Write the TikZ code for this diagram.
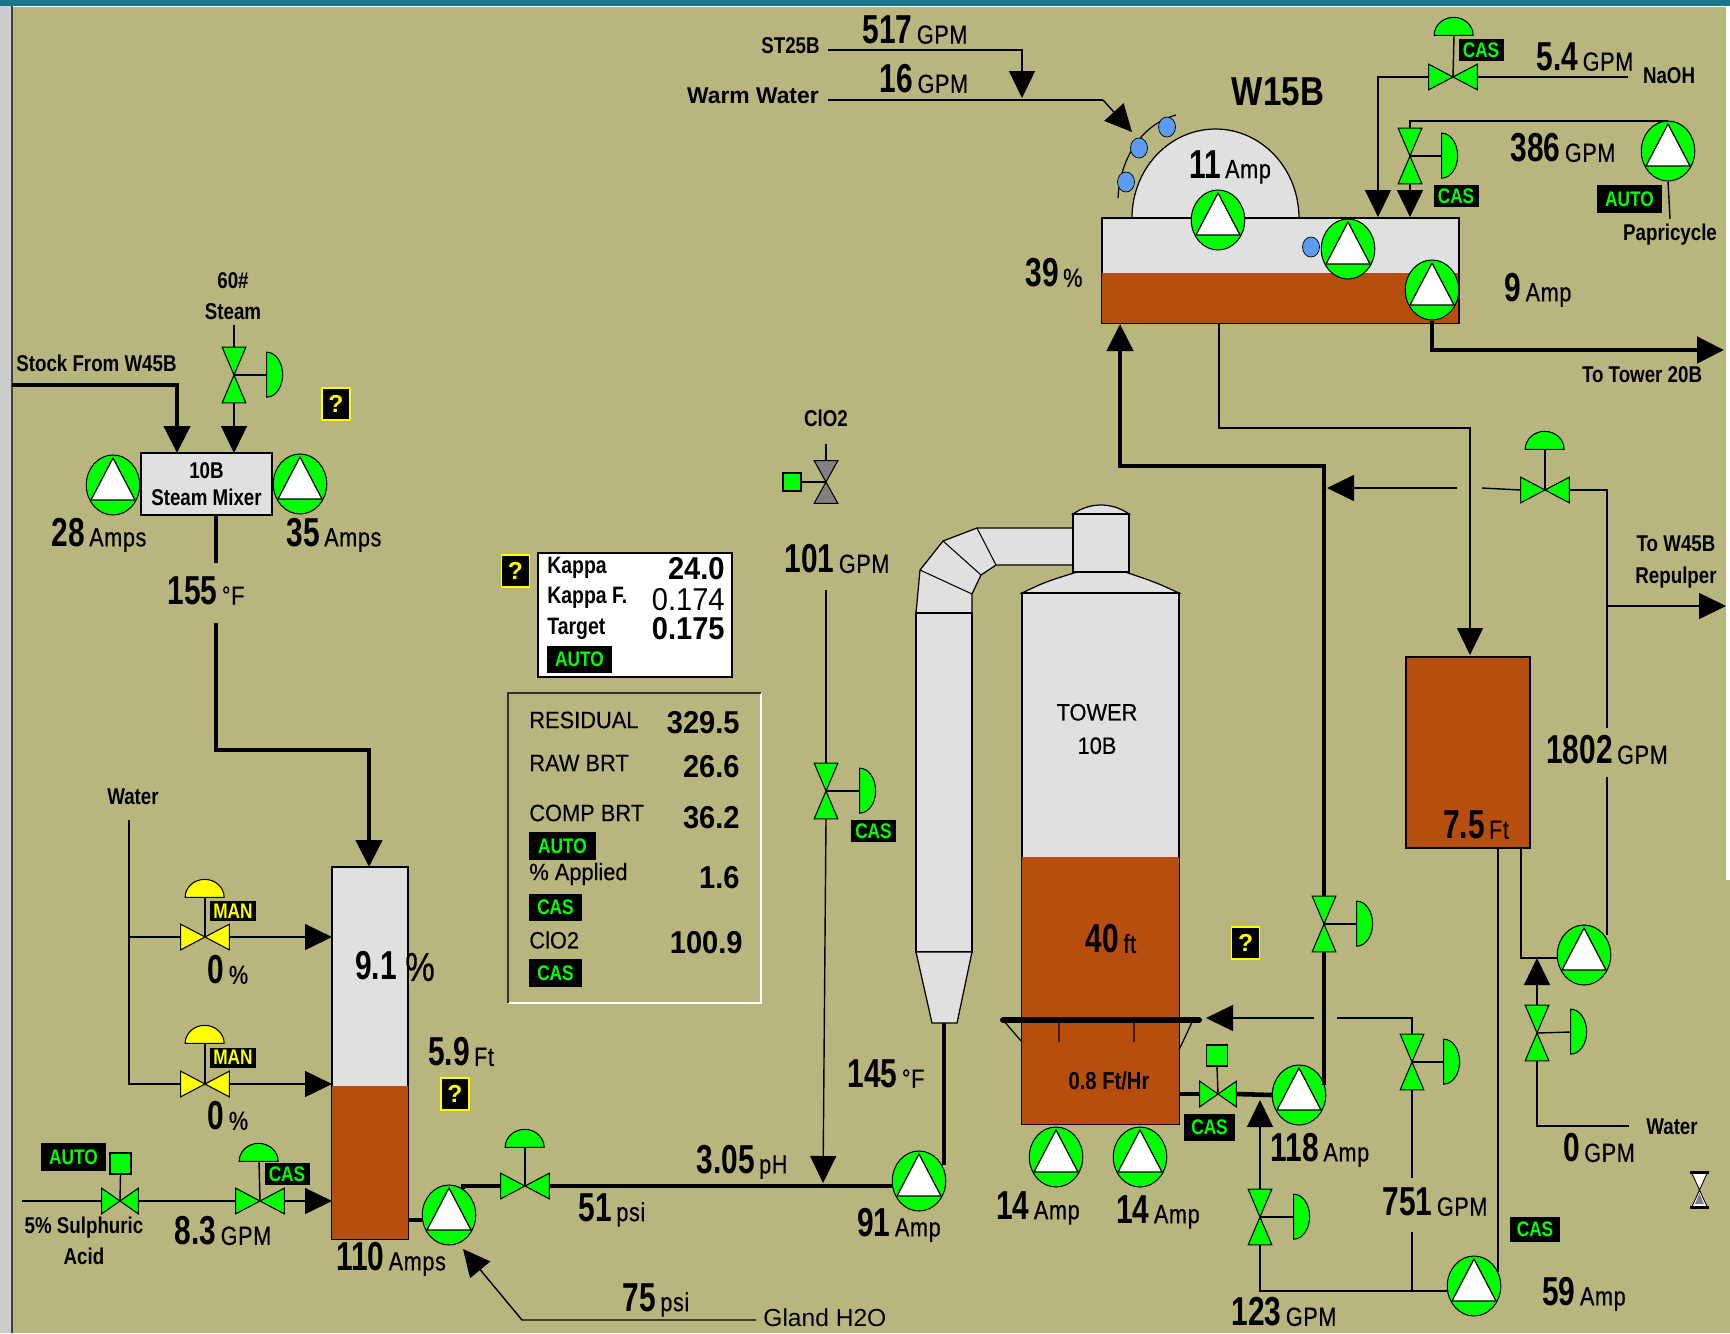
\documentclass[tikz,border=0pt]{standalone}
\usepackage{fontspec}
\setmainfont{Liberation Sans}
\newfontfamily\numfont[FakeStretch=0.74]{Liberation Sans}
\newfontfamily\unitfont[FakeStretch=0.82,LetterSpace=2.5,FakeBold=0.5]{Liberation Sans}
\newfontfamily\labelfont[FakeStretch=0.82]{Liberation Sans}
\newfontfamily\panelfont[FakeStretch=0.92,FakeBold=0.3]{Liberation Sans}
\newfontfamily\panelnumfont[FakeStretch=0.92]{Liberation Sans}
\usetikzlibrary{arrows.meta,shapes.geometric}
\definecolor{Pback}{RGB}{184,182,126}
\definecolor{Pgreen}{RGB}{0,255,0}
\definecolor{Pyellow}{RGB}{255,255,0}
\definecolor{Pbrown}{RGB}{184,78,14}
\definecolor{Pgray}{RGB}{224,224,224}
\definecolor{Pblue}{RGB}{91,155,240}
\definecolor{Pteal}{RGB}{24,120,135}
\tikzset{
  bighead/.tip={Triangle[length=0.54cm,width=0.52cm]},
  pipe/.style={draw=black, line width=0.8pt},
  flow/.style={pipe, -{bighead}},
  thickpipe/.style={draw=black, line width=2.6pt},
  thickflow/.style={thickpipe, -{bighead}},
  vessel/.style={draw=black, line width=0.7pt, fill=Pgray, inner sep=0pt},
  pumpbox/.style={ellipse, draw=black, line width=0.6pt, fill=Pgreen, inner sep=0pt, minimum width=1.07cm, minimum height=1.2cm},
  hvbox/.style={inner sep=0pt, minimum width=0.96cm, minimum height=0.5cm},
  vvbox/.style={inner sep=0pt, minimum width=0.46cm, minimum height=1.1cm},
  squarebox/.style={draw=black, line width=0.6pt, fill=Pgreen, inner sep=0pt, minimum size=0.42cm},
  tagbox/.style={fill=black, text=Pgreen, font=\labelfont\bfseries\fontsize{12}{14}\selectfont, inner sep=0pt, minimum height=0.44cm, minimum width=0.9cm},
  mantag/.style={tagbox, text=Pyellow, minimum width=0.94cm, minimum height=0.4cm},
  qbox/.style={draw=Pyellow, fill=black, text=Pyellow, line width=0.8pt, font=\bfseries\fontsize{14}{16}\selectfont, inner sep=0pt, minimum width=0.56cm, minimum height=0.64cm},
  reading/.style={inner sep=0pt},
  tagline/.style={inner sep=0pt, font=\labelfont\bfseries\fontsize{13}{15}\selectfont, align=center},
  paneltext/.style={inner sep=0pt, anchor=west, font=\panelfont\fontsize{13.5}{16}\selectfont},
  panelnum/.style={inner sep=0pt, anchor=east, font=\panelnumfont\bfseries\fontsize{18}{21}\selectfont},
  bubble/.style={ellipse, draw=black, line width=0.4pt, fill=Pblue, inner sep=0pt, minimum width=0.34cm, minimum height=0.4cm}
}
\newcommand{\val}[2]{{\numfont\bfseries\fontsize{23}{26}\selectfont #1}\hspace{2.5pt}{\unitfont\fontsize{15}{18}\selectfont #2}}
\newcommand{\pump}[2]{%
  \node[pumpbox] (#1) at (#2) {};
  \draw[fill=white, line width=0.7pt] ([shift={(0,-27)}]#1.center) -- ([shift={(22,15)}]#1.center) -- ([shift={(-22,15)}]#1.center) -- cycle;
}
\newcommand{\hvalve}[4][Pgreen]{%
  \node[hvbox,#4] (#2) at (#3) {};
  \draw[fill=#1, line width=0.6pt] (#2.north west) -- (#2.south east) -- (#2.north east) -- (#2.south west) -- cycle;
}
\newcommand{\vvalve}[4][Pgreen]{%
  \node[vvbox,#4] (#2) at (#3) {};
  \draw[fill=#1, line width=0.6pt] (#2.north west) -- (#2.north east) -- (#2.south west) -- (#2.south east) -- cycle;
}
\newcommand{\domeup}[3][Pgreen]{%
  \node[inner sep=0pt, minimum width=0.78cm, minimum height=0.36cm] (#2) at (#3) {};
  \draw[fill=#1, line width=0.6pt] (#2.south west) arc[start angle=180, end angle=0, x radius=0.39cm, y radius=0.36cm] -- cycle;
}
\newcommand{\domeright}[2]{%
  \node[inner sep=0pt, minimum width=0.32cm, minimum height=0.9cm] (#1) at (#2) {};
  \draw[fill=Pgreen, line width=0.6pt] (#1.north west) arc[start angle=90, end angle=-90, x radius=0.32cm, y radius=0.45cm] -- cycle;
}

\begin{document}
\begin{tikzpicture}[x=0.02cm,y=-0.02cm]
  \useasboundingbox (0,0) rectangle (1730,1333);
  \fill[Pback] (0,0) rectangle (1730,1333);
  \fill[Pteal] (0,0) rectangle (1730,6);
  \draw[white, line width=0.5pt] (0,6.5) -- (1730,6.5);
  \fill[white] (1726,6) rectangle (1730,880);
  \fill[black!20] (0,6) rectangle (11,1333);
  \draw[black!75, line width=1pt] (12,6) -- (12,1333);

  % vessels
  \node[vessel, minimum width=2.62cm, minimum height=1.24cm, align=center, font=\labelfont\bfseries\fontsize{13}{15.5}\selectfont] (mixer) at (206.5,484) {10B\\Steam Mixer};
  \node[vessel, minimum width=1.52cm, minimum height=7.44cm] (chest) at (370,1053) {};
  \fill[Pbrown] (chest.south west) rectangle (408,1086);
  \draw[line width=0.7pt] (chest.south west) rectangle (chest.north east);

  \draw[vessel] (1022,593) .. controls (1045,582) .. (1077,572) -- (1125,572) .. controls (1155,582) .. (1179,593) -- cycle;
  \draw[vessel] (1073,514) .. controls (1090,502) and (1112,502) .. (1129,514) -- cycle;
  \draw[vessel] (916,613) -- (920,570) -- (943,541) -- (977,528) -- (1073,528) -- (1073,565) -- (996,565) -- (981,575) -- (972,594) -- (972,613) -- cycle;
  \draw[line width=0.6pt] (920,570) -- (972,594) (943,541) -- (981,575) (977,528) -- (996,565);
  \node[vessel, minimum width=1.12cm, minimum height=6.78cm] (duct) at (944,782.5) {};
  \draw[vessel] (916,952) -- (972,952) -- (957,1023) -- (932,1023) -- cycle;
  \node[vessel, minimum width=1.12cm, minimum height=1.16cm] (neck) at (1101,543) {};
  \node[vessel, minimum width=3.14cm, minimum height=10.62cm] (tower) at (1100.5,858.5) {};
  \fill[Pbrown] (tower.south west) rectangle (1179,857);
  \draw[line width=0.7pt] (tower.south west) rectangle (tower.north east);
  \node[vessel, fill=Pbrown, minimum width=2.48cm, minimum height=3.82cm] (stand) at (1468,752.5) {};

  \draw[vessel] (1132,218) arc[start angle=180, end angle=0, x radius=1.67cm, y radius=1.78cm] -- cycle;
  \node[vessel, minimum width=7.13cm, minimum height=2.1cm] (washer) at (1280.25,270.5) {};
  \fill[Pbrown] (washer.south west) rectangle (1458.5,273);
  \draw[line width=0.7pt] (washer.south west) rectangle (washer.north east);

  % tower internals
  \draw[line width=0.7pt] (1059,1020) -- (1059,1042) (1134,1020) -- (1134,1042) (1003,1020) -- (1022,1042) (1193,1020) -- (1179,1050);
  \draw[line width=3.4pt, line cap=round] (1003,1020) -- (1199,1020);

  % pumps
  \pump{pmixl}{113,485}
  \pump{pmixr}{300,484}
  \pump{pchest}{449,1215}
  \pump{pfeed}{919,1181}
  \pump{ptowa}{1056,1157}
  \pump{ptowb}{1140,1157}
  \pump{pdisc}{1299,1095}
  \pump{pstand}{1474,1286}
  \pump{pwater}{1584,955}
  \pump{pdome}{1218,220}
  \pump{pwash}{1348,249}
  \pump{pout}{1432,290}
  \pump{ppap}{1668,151}

  % valves
  \vvalve{vsteam}{234,375}{}
  \domeright{dsteam}{275,375}
  \hvalve[Pyellow]{vwata}{205,937}{}
  \domeup[Pyellow]{dwata}{205,888}
  \hvalve[Pyellow]{vwatb}{205,1084}{}
  \domeup[Pyellow]{dwatb}{205,1034}
  \hvalve{vacid}{120,1201}{minimum width=0.72cm}
  \node[squarebox] (sacid) at (120.5,1163.5) {};
  \hvalve{vacidb}{260,1201}{}
  \domeup{dacidb}{259,1152}
  \hvalve{vfeed}{525,1186}{}
  \domeup{dfeed}{525,1138}
  \vvalve[black!50]{vclo}{826,482}{minimum height=0.84cm}
  \node[squarebox, minimum size=0.36cm] (sclo) at (792,482) {};
  \vvalve{vclob}{826,791}{}
  \domeright{dclob}{868,791}
  \hvalve{vtow}{1218,1094}{minimum width=0.72cm}
  \node[squarebox] (stow) at (1217,1055.5) {};
  \vvalve{vdisc}{1324,924}{}
  \domeright{ddisc}{1365,924}
  \vvalve{vdil}{1260,1217}{}
  \domeright{ddil}{1302,1217}
  \vvalve{vback}{1412,1062}{}
  \domeright{dback}{1452,1062}
  \vvalve{vwat}{1537,1033}{}
  \domeright{dwat}{1579,1032}
  \hvalve{vrep}{1545,490}{}
  \domeup{drep}{1545,440}
  \hvalve{vnaoh}{1453,77}{}
  \domeup{dnaoh}{1454,26}
  \vvalve{vpap}{1410,156}{}
  \domeright{dpap}{1450,156}

  % stems
  \draw[pipe] (vsteam.center) -- (dsteam.west);
  \draw[pipe] (vwata.center) -- (dwata.south);
  \draw[pipe] (vwatb.center) -- (dwatb.south);
  \draw[pipe] (vacid.center) -- (sacid.south);
  \draw[pipe] (vacidb.center) -- (dacidb.south);
  \draw[pipe] (vfeed.center) -- (dfeed.south);
  \draw[pipe] (vclo.center) -- (sclo.east);
  \draw[pipe] (vclob.center) -- (dclob.west);
  \draw[pipe] (vtow.center) -- (stow.south);
  \draw[pipe] (vdisc.center) -- (ddisc.west);
  \draw[pipe] (vdil.center) -- (ddil.west);
  \draw[pipe] (vback.center) -- (dback.west);
  \draw[pipe] (vwat.center) -- (dwat.west);
  \draw[pipe] (vrep.center) -- (drep.south);
  \draw[pipe] (vnaoh.center) -- (dnaoh.south);
  \draw[pipe] (vpap.center) -- (dpap.west);

  % steam mixer lines
  \coordinate (stockin) at (12,385);
  \coordinate (mixstock) at (177,453);
  \coordinate (steamtop) at (234,325);
  \coordinate (mixsteam) at (234,453);
  \coordinate (mixout) at (216,515);
  \coordinate (mixgap) at (216,563);
  \coordinate (chestfeed) at (216,623);
  \coordinate (chestbend) at (369,750);
  \coordinate (chestin) at (369,867);
  \draw[thickflow] (stockin) -| (mixstock);
  \draw[pipe] (steamtop) -- (vsteam.north);
  \draw[flow] (vsteam.south) -- (mixsteam);
  \draw[thickpipe] (mixout) -- (mixgap);
  \draw[thickpipe, -{bighead}] (chestfeed) |- (chestbend) -- (chestin);

  % chest inlets
  \coordinate (watertop) at (129,820);
  \coordinate (chesta) at (332,937);
  \coordinate (chestb) at (332,1084);
  \coordinate (chestc) at (332,1201);
  \coordinate (acidin) at (22,1201);
  \draw[pipe] (watertop) |- (vwata.west);
  \draw[pipe] (watertop) |- (vwatb.west);
  \draw[flow] (vwata.east) -- (chesta);
  \draw[flow] (vwatb.east) -- (chestb);
  \draw[pipe] (acidin) -- (vacid.west);
  \draw[pipe] (vacid.east) -- (vacidb.west);
  \draw[flow] (vacidb.east) -- (chestc);

  % feed line
  \coordinate (chestout) at (408,1220);
  \coordinate (feedtee) at (823,1183);
  \coordinate (cloin) at (826,444);
  \coordinate (clogap) at (826,590);
  \coordinate (ductfoot) at (944,1023);
  \coordinate (glandend) at (756,1320);
  \coordinate (glandbend) at (522,1320);
  \coordinate (glandtip) at (463,1249);
  \draw[thickpipe] (chestout) -- (chestout -| pchest.west);
  \draw[thickpipe] (pchest.62) |- (vfeed.west);
  \draw[thickpipe] (vfeed.east) -- (pfeed.west |- vfeed.east);
  \draw[thickpipe] (ductfoot) -- (944,1165);
  \draw[flow] (glandend) -- (glandbend) -- (glandtip);
  \draw[pipe] (cloin) -- (vclo.north);
  \draw[pipe] (clogap) -- (vclob.north);
  \draw[flow] (vclob.south) -- (feedtee);

  % tower outlet and recycle
  \coordinate (towerout) at (1179,1094);
  \coordinate (riserbend) at (1324,466);
  \coordinate (washerin) at (1120,324);
  \coordinate (barin) at (1206,1018);
  \coordinate (backgap) at (1314,1018);
  \coordinate (backgapb) at (1337,1018);
  \coordinate (dilhead) at (1260,1100);
  \coordinate (dilbend) at (1260,1291);
  \coordinate (backlow) at (1412,1178);
  \coordinate (backmid) at (1412,1232);
  \coordinate (backfoot) at (1412,1291);
  \draw[thickpipe] (towerout) -- (vtow.west);
  \draw[thickpipe] (vtow.east) -- (pdisc.west);
  \draw[thickpipe] (1324,1085) -- (vdisc.south);
  \draw[thickflow] (vdisc.north) |- (riserbend) -| (washerin);
  \draw[flow] (backgap) -- (barin);
  \draw[pipe] (vback.north) |- (backgapb);
  \draw[pipe] (vback.south) -- (backlow);
  \draw[pipe] (backmid) -- (backfoot);
  \draw[pipe] (pstand.west |- dilbend) -- (dilbend) -- (vdil.south);
  \draw[flow] (vdil.north) -- (dilhead);

  % stand pipe lines
  \coordinate (washout) at (1219,323);
  \coordinate (sidebend) at (1219,428);
  \coordinate (sideend) at (1470,655);
  \coordinate (reptip) at (1327,488);
  \coordinate (repgap) at (1457,488);
  \coordinate (repgapb) at (1482,488);
  \coordinate (repout) at (1726,606);
  \coordinate (reptee) at (1607,606);
  \coordinate (repstop) at (1607,728);
  \coordinate (represume) at (1607,777);
  \coordinate (repfoot) at (1607,935);
  \coordinate (standa) at (1498,848);
  \coordinate (standb) at (1521,848);
  \coordinate (waterend) at (1629,1126);
  \coordinate (watertip) at (1537,958);
  \draw[flow] (washout) |- (sidebend) -| (sideend);
  \draw[flow] (repgap) -- (reptip);
  \draw[pipe] (repgapb) -- (vrep.west);
  \draw[pipe] (vrep.east) -| (repstop);
  \draw[flow] (reptee) -- (repout);
  \draw[pipe] (represume) -- (repfoot);
  \draw[pipe] (standa) -- (1498,1272);
  \draw[pipe] (standb) |- (pwater.west |- watertip);
  \draw[pipe] (waterend) -| (vwat.south);
  \draw[flow] (vwat.north) -- (watertip);

  % washer inlets
  \coordinate (stin) at (828,50);
  \coordinate (sttip) at (1022,98);
  \coordinate (warmin) at (828,100);
  \coordinate (warmbend) at (1103,100);
  \coordinate (warmtip) at (1132,132);
  \coordinate (naohin) at (1628,77);
  \coordinate (naohtip) at (1378,217);
  \coordinate (paptop) at (1668,121);
  \coordinate (paptip) at (1410,217);
  \coordinate (papend) at (1670,219);
  \coordinate (towerend) at (1724,350);
  \draw[flow] (stin) -| (sttip);
  \draw[pipe] (warmin) -- (warmbend);
  \draw[flow] (warmbend) -- (warmtip);
  \draw[pipe] (naohin) -- (vnaoh.east);
  \draw[flow] (vnaoh.west) -| (naohtip);
  \draw[pipe] (paptop) -- (1410,121) -- (vpap.north);
  \draw[flow] (vpap.south) -- (paptip);
  \draw[pipe] (ppap.south) -- (papend);
  \draw[thickflow] (pout.south) |- (towerend);

  % agitator sprays
  \draw[line width=0.7pt] (1118,198) .. controls (1120,160) and (1140,125) .. (1176,115);
  \node[bubble] (bubblea) at (1167,127) {};
  \node[bubble] (bubbleb) at (1139,148) {};
  \node[bubble] (bubblec) at (1126,182) {};
  \node[bubble] (bubbled) at (1311,247) {};

  % tags
  \node[tagbox, minimum width=1.3cm, minimum height=0.56cm] (tagacid) at (73.5,1157) {AUTO};
  \node[tagbox] (tagacidb) at (287,1174) {CAS};
  \node[mantag] (tagwata) at (233,911) {MAN};
  \node[mantag] (tagwatb) at (233,1057.5) {MAN};
  \node[tagbox] (tagclo) at (873.5,831) {CAS};
  \node[tagbox, minimum width=1.02cm, minimum height=0.54cm] (tagtow) at (1209.5,1127.5) {CAS};
  \node[tagbox, minimum width=1cm, minimum height=0.5cm] (tagstand) at (1535,1229.5) {CAS};
  \node[tagbox] (tagnaoh) at (1481,50) {CAS};
  \node[tagbox] (tagpap) at (1456,196) {CAS};
  \node[tagbox, minimum width=1.3cm, minimum height=0.56cm] (tagauto) at (1629.5,199) {AUTO};

  \node[qbox] (qmix) at (336,404) {?};
  \node[qbox] (qchest) at (455,1094) {?};
  \node[qbox] (qkappa) at (515.5,571) {?};
  \node[qbox] (qtower) at (1245.5,943) {?};

  % readings
  \node[tagline, anchor=west] (lblstock) at (16,363) {Stock From W45B};
  \node[tagline] (lblsteam) at (233,296) {60\#\\[3pt]Steam};
  \node[reading] (lblmixl) at (99,535) {\val{28}{Amps}};
  \node[reading] (lblmixr) at (334,535) {\val{35}{Amps}};
  \node[reading] (lbltemp) at (206,591) {\val{155}{°F}};
  \node[tagline] (lblwater) at (133,797) {Water};
  \node[reading] (lblwata) at (228,970) {\val{0}{\%}};
  \node[reading] (lblwatb) at (228,1116) {\val{0}{\%}};
  \node[tagline] (lblacid) at (84,1241) {5\% Sulphuric\\[3pt]Acid};
  \node[reading] (lblacidb) at (223,1231) {\val{8.3}{GPM}};
  \node[reading] (lblchest) at (391,1259) {\val{110}{Amps}};
  \node[reading] (lblcons) at (376,966) {\val{9.1}{}};
  \node[inner sep=0pt, font=\unitfont\fontsize{23}{26}\selectfont] (lblconsp) at (420,967) {\%};
  \node[reading] (lbllevel) at (461,1052) {\val{5.9}{Ft}};
  \node[reading] (lblpsi) at (612,1210) {\val{51}{psi}};
  \node[reading] (lblph) at (742,1162) {\val{3.05}{pH}};
  \node[reading] (lblfeed) at (899,1225) {\val{91}{Amp}};
  \node[reading] (lblgland) at (656,1300) {\val{75}{psi}};
  \node[inner sep=0pt, anchor=west, font=\fontsize{14}{16}\selectfont] (lblh2o) at (763,1318) {Gland H2O};
  \node[reading] (lbltempb) at (886,1074) {\val{145}{°F}};
  \node[tagline] (lblclo) at (826,418) {ClO2};
  \node[reading] (lblclogpm) at (837,559) {\val{101}{GPM}};
  \node[inner sep=0pt, align=center, font=\panelfont\fontsize{13.5}{19}\selectfont] (lbltower) at (1097,729) {TOWER\\10B};
  \node[reading] (lbltowlvl) at (1111,939) {\val{40}{ft}};
  \node[inner sep=0pt, font=\labelfont\bfseries\fontsize{14}{16}\selectfont] (lblrate) at (1109,1081) {0.8 Ft/Hr};
  \node[reading] (lbltowa) at (1038,1208) {\val{14}{Amp}};
  \node[reading] (lbltowb) at (1158,1212) {\val{14}{Amp}};
  \node[reading] (lbldisc) at (1320,1150) {\val{118}{Amp}};
  \node[reading] (lbldil) at (1284,1312) {\val{123}{GPM}};
  \node[reading] (lblback) at (1435,1202) {\val{751}{GPM}};
  \node[reading] (lblstand) at (1584,1294) {\val{59}{Amp}};
  \node[tagline] (lblwaterb) at (1672,1127) {Water};
  \node[reading] (lblzero) at (1599,1148) {\val{0}{GPM}};
  \node[reading] (lblrep) at (1607,750) {\val{1802}{GPM}};
  \node[reading] (lblstandl) at (1476,825) {\val{7.5}{Ft}};
  \node[tagline] (lbltow) at (1642,375) {To Tower 20B};
  \node[tagline] (lblw45) at (1676,562) {To W45B\\[3pt]Repulper};
  \node[tagline, anchor=east] (lblst) at (820,46) {ST25B};
  \node[tagline, anchor=east, font=\bfseries\fontsize{13}{15}\selectfont] (lblwarm) at (819,96) {Warm Water};
  \node[reading] (lblst517) at (915,30) {\val{517}{GPM}};
  \node[reading] (lblwarm16) at (924,79) {\val{16}{GPM}};
  \node[inner sep=0pt, font=\labelfont\bfseries\fontsize{23}{26}\selectfont] (lblwasher) at (1278,92) {W15B};
  \node[reading] (lbldome) at (1230,167) {\val{11}{Amp}};
  \node[reading] (lblpct) at (1054,273) {\val{39}{\%}};
  \node[reading] (lblout) at (1538,290) {\val{9}{Amp}};
  \node[reading] (lblnaoh) at (1585,57) {\val{5.4}{GPM}};
  \node[tagline] (lblnaohn) at (1669,76) {NaOH};
  \node[reading] (lblpap) at (1563,148) {\val{386}{GPM}};
  \node[tagline] (lblpapn) at (1670,235) {Papricycle};

  % kappa panel
  \node[draw=black, line width=0.9pt, fill=white, inner sep=0pt, minimum width=3.88cm, minimum height=2.48cm] (kappabox) at (635,615) {};
  \node[paneltext, font=\labelfont\bfseries\fontsize{13.5}{16}\selectfont] (lblkappa) at (547,568) {Kappa};
  \node[paneltext, font=\labelfont\bfseries\fontsize{13.5}{16}\selectfont] (lblkappaf) at (547,598) {Kappa F.};
  \node[paneltext, font=\labelfont\bfseries\fontsize{13.5}{16}\selectfont] (lbltarget) at (547,629) {Target};
  \node[panelnum] (numkappa) at (725,569) {24.0};
  \node[inner sep=0pt, anchor=east, font=\panelnumfont\fontsize{18}{21}\selectfont] (numkappaf) at (725,600) {0.174};
  \node[panelnum] (numtarget) at (725,629) {0.175};
  \node[tagbox, minimum width=1.3cm, minimum height=0.54cm] (tagkappa) at (579.5,659.5) {AUTO};

  % residual panel
  \draw[white, line width=0.9pt] (761,693) -- (761,1003) -- (508,1003);
  \draw[black!80, line width=0.9pt] (508,1003) -- (508,693) -- (761,693);
  \node[paneltext] (lblres) at (529,720) {RESIDUAL};
  \node[paneltext] (lblraw) at (529,763) {RAW BRT};
  \node[paneltext] (lblcomp) at (529,813) {COMP BRT};
  \node[paneltext] (lblapp) at (529,874) {\% Applied};
  \node[paneltext] (lblclob) at (529,940) {ClO2};
  \node[panelnum] (numres) at (740,723) {329.5};
  \node[panelnum] (numraw) at (740,767) {26.6};
  \node[panelnum] (numcomp) at (740,818) {36.2};
  \node[panelnum] (numapp) at (740,878) {1.6};
  \node[panelnum] (numclo) at (743,943) {100.9};
  \node[tagbox, minimum width=1.34cm, minimum height=0.56cm] (tagcomp) at (562.5,846) {AUTO};
  \node[tagbox, minimum width=1.06cm, minimum height=0.54cm] (tagapp) at (555.5,907.5) {CAS};
  \node[tagbox, minimum width=1.06cm, minimum height=0.56cm] (tagclob) at (555.5,973) {CAS};

  % hourglass
  \node[inner sep=0pt, minimum width=0.3cm, minimum height=0.68cm] (hourglass) at (1699.5,1190) {};
  \draw[fill=white, line width=0.5pt] (hourglass.north west) -- (hourglass.north east) -- (hourglass.south west) -- (hourglass.south east) -- cycle;
  \fill[black!50] (1695,1204) -- (1704,1204) -- (1699.5,1193) -- cycle;
  \draw[line width=1.4pt] ([xshift=-1pt]hourglass.north west) -- ([xshift=1pt]hourglass.north east);
  \draw[line width=1.4pt] ([xshift=-1pt]hourglass.south west) -- ([xshift=1pt]hourglass.south east);
\end{tikzpicture}
\end{document}
